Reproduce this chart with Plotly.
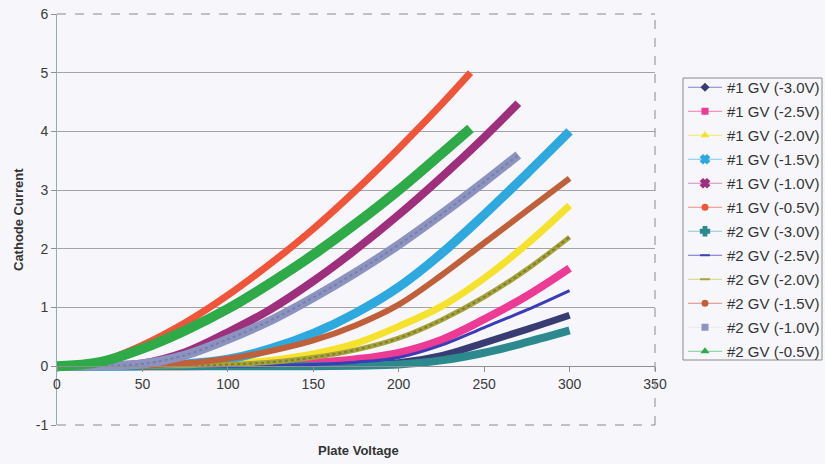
import plotly.graph_objects as go

# Plate voltage sample points for each run (V)
volts_05 = [0, 25, 50, 75, 100, 125, 150, 175, 200, 225, 242]
volts_10 = [0, 25, 50, 75, 100, 125, 150, 175, 200, 225, 250, 270]
volts_full = [0, 25, 50, 75, 100, 125, 150, 175, 200, 225, 250, 275, 300]

# Cathode current readings, tube #1
t1_m30 = [0, 0, 0, 0, 0, 0, 0.01, 0.03, 0.06, 0.18, 0.40, 0.63, 0.87]
t1_m25 = [0, 0, 0, 0, 0.01, 0.03, 0.06, 0.12, 0.23, 0.45, 0.80, 1.20, 1.67]
t1_m20 = [0, 0, 0, 0.01, 0.04, 0.10, 0.21, 0.39, 0.68, 1.02, 1.50, 2.08, 2.74]
t1_m15 = [0, 0, 0.01, 0.04, 0.12, 0.30, 0.56, 0.91, 1.35, 1.92, 2.58, 3.28, 4.00]
t1_m10 = [0, 0.01, 0.05, 0.24, 0.58, 0.97, 1.45, 1.99, 2.58, 3.22, 3.90, 4.48]
t1_m05 = [0, 0.08, 0.36, 0.74, 1.21, 1.75, 2.34, 3.00, 3.71, 4.46, 5.00]

# Cathode current readings, tube #2
t2_m30 = [0, 0, 0, 0, 0, 0, 0, 0.01, 0.03, 0.10, 0.23, 0.41, 0.61]
t2_m25 = [0, 0, 0, 0, 0, 0.01, 0.03, 0.07, 0.15, 0.36, 0.66, 0.96, 1.29]
t2_m20 = [0, 0, 0, 0.01, 0.03, 0.07, 0.15, 0.28, 0.48, 0.79, 1.18, 1.65, 2.20]
t2_m15 = [0, 0, 0.01, 0.05, 0.13, 0.26, 0.44, 0.70, 1.05, 1.55, 2.10, 2.65, 3.20]
t2_m10 = [0, 0.01, 0.04, 0.19, 0.46, 0.78, 1.17, 1.60, 2.07, 2.59, 3.14, 3.60]
t2_m05 = [0, 0.07, 0.30, 0.61, 0.98, 1.42, 1.90, 2.43, 3.00, 3.62, 4.05]

series_names = [
    "#1 GV (-3.0V)", "#1 GV (-2.5V)", "#1 GV (-2.0V)", "#1 GV (-1.5V)",
    "#1 GV (-1.0V)", "#1 GV (-0.5V)", "#2 GV (-3.0V)", "#2 GV (-2.5V)",
    "#2 GV (-2.0V)", "#2 GV (-1.5V)", "#2 GV (-1.0V)", "#2 GV (-0.5V)",
]

# Axis ticks
x_ticks = [0, 50, 100, 150, 200, 250, 300, 350]
y_ticks = [-1, 0, 1, 2, 3, 4, 5, 6]
y_tick_labels = ["-1", "0", "1", "2", "3", "4", "5", "6"]

x_data = [volts_full, volts_full, volts_full, volts_full, volts_10, volts_05,
          volts_full, volts_full, volts_full, volts_full, volts_10, volts_05]
y_data = [t1_m30, t1_m25, t1_m20, t1_m15, t1_m10, t1_m05,
          t2_m30, t2_m25, t2_m20, t2_m15, t2_m10, t2_m05]

# (curve colour, curve width, legend line colour, marker symbol, marker size, texture colour)
styles = [
    ("#383c72", 7, "#7d80c8", "diamond", 7, None),
    ("#ec3a95", 8, "#f27aa8", "square", 7, None),
    ("#f4e22c", 7, "#f2e86a", "triangle-up", 8, None),
    ("#2ea9e0", 9, "#7cc6ec", "x", 7, None),
    ("#9e2f7c", 8, "#d28ac0", "x", 7, None),
    ("#f0553a", 7, "#f08a78", "circle", 7, None),
    ("#2c8a8e", 8, "#8ccbd0", "cross", 7, None),
    ("#3c3cb8", 3, "#6c6cd0", "line-ew-open", 7, None),
    ("#a6a33a", 5, "#d4d37a", "line-ew-open", 7, "#6f6c2c"),
    ("#c0603a", 6, "#e08a78", "circle", 7, None),
    ("#8c93be", 9, "#e6e8f4", "square", 7, "#6f76a6"),
    ("#2eaa48", 10, "#7ccc8c", "triangle-up", 8, None),
]

fig = go.Figure()

# Measured curves, drawn as heavy lines (dense overlapping markers)
for xs, ys, (col, w, _, _, _, tex) in zip(x_data, y_data, styles):
    fig.add_trace(go.Scatter(
        x=xs, y=ys, mode="lines",
        line=dict(color=col, width=w, shape="spline", smoothing=1.0),
        showlegend=False, hoverinfo="skip",
    ))
    if tex:
        fig.add_trace(go.Scatter(
            x=xs, y=ys, mode="lines",
            line=dict(color=tex, width=2, dash="dot", shape="spline", smoothing=1.0),
            opacity=0.7, showlegend=False, hoverinfo="skip",
        ))

# Legend entries: thin line with marker
for i, (name, (col, w, lcol, sym, ms, _)) in enumerate(zip(series_names, styles)):
    mk = dict(symbol=sym, size=ms, color=col)
    if sym.endswith("-open") or sym in ("x", "cross"):
        mk["line"] = dict(color=col, width=2)
    fig.add_trace(go.Scatter(
        x=[None], y=[None], mode="lines+markers", name=name,
        legendgroup=f"g{i}",
        line=dict(color=lcol, width=1), marker=mk,
    ))

font_family = "Arial, Liberation Sans, sans-serif"
tick_font = dict(family=font_family, size=14, color="#3a3a3a")

# plot area in pixels: x 57..655, y 14..425
def px_x(p):
    return (p - 57) / 598

def px_y(p):
    return (425 - p) / 411

fig.update_layout(
    width=825, height=464,
    margin=dict(l=57, r=170, t=14, b=39, autoexpand=False),
    paper_bgcolor="#f7f7fb",
    plot_bgcolor="#f7f7fb",
    font=dict(family=font_family, size=13, color="#3a3a3a"),
    showlegend=True,
    legend=dict(
        x=px_x(683), y=px_y(71), xanchor="left", yanchor="top",
        bgcolor="rgba(0,0,0,0)", borderwidth=0,
        font=dict(family=font_family, size=15, color="#333333"),
        traceorder="grouped", tracegroupgap=1.5,
        itemwidth=34,
    ),
    xaxis=dict(
        range=[0, 350], tickvals=x_ticks,
        anchor="free", position=1 / 7, automargin=False,
        showline=True, linecolor="#8f8f8f", linewidth=1,
        ticks="outside", ticklen=5, tickcolor="#8f8f8f",
        showgrid=False, zeroline=False,
        tickfont=tick_font,
    ),
    yaxis=dict(
        range=[-1, 6], tickvals=y_ticks, ticktext=y_tick_labels, automargin=False,
        showline=True, linecolor="#8fb0a8", linewidth=1,
        ticks="outside", ticklen=5, tickcolor="#8f8f8f",
        showgrid=True, gridcolor="#a2a2a8", gridwidth=1,
        zeroline=True, zerolinecolor="#8f8f8f", zerolinewidth=1,
        tickfont=tick_font,
    ),
    shapes=[
        dict(type="line", xref="paper", yref="paper", x0=0, x1=1, y0=1, y1=1,
             line=dict(color="#8a8a8a", width=1, dash="dash")),
        dict(type="line", xref="paper", yref="paper", x0=1, x1=1, y0=0, y1=1,
             line=dict(color="#8a8a8a", width=1, dash="dash")),
        dict(type="line", xref="paper", yref="paper", x0=0, x1=1, y0=0, y1=0,
             line=dict(color="#8a8a8a", width=1, dash="dash")),
        # legend frame
        dict(type="rect", xref="paper", yref="paper",
             x0=px_x(683), x1=px_x(822), y0=px_y(360), y1=px_y(78),
             line=dict(color="#8a8a8a", width=1), fillcolor="#f7f7fb", layer="below"),
    ],
    annotations=[
        dict(text="<b>Plate Voltage</b>", xref="paper", yref="paper",
             x=px_x(358), y=px_y(450), xanchor="center", yanchor="middle",
             showarrow=False, font=dict(size=13, color="#333333")),
        dict(text="<b>Cathode Current</b>", xref="paper", yref="paper",
             x=px_x(18), y=px_y(220), xanchor="center", yanchor="middle",
             textangle=-90, showarrow=False, font=dict(size=13, color="#333333")),
    ],
)

fig.write_html("out.html")
